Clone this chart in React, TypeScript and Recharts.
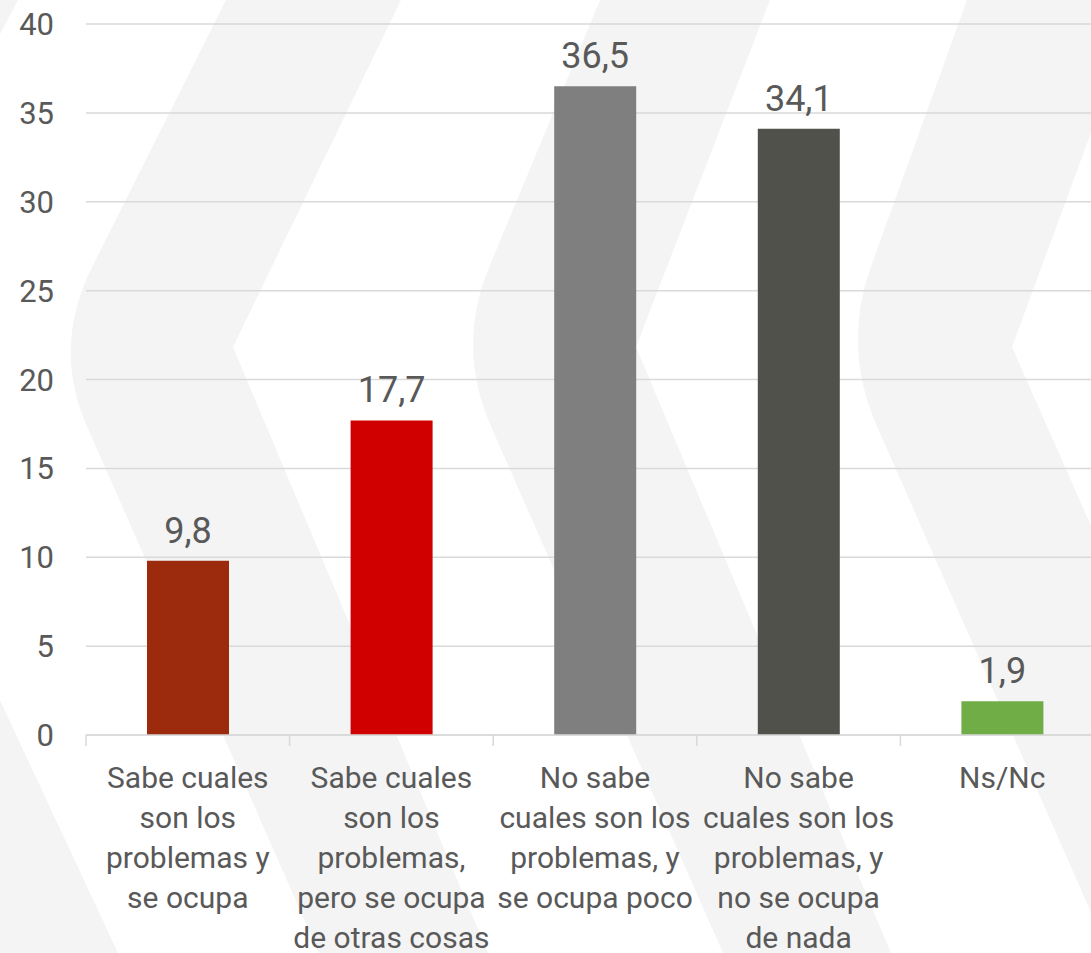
import { Bar, BarChart, CartesianGrid, Cell, LabelList, XAxis, YAxis } from "recharts";

const categories = [
  "Sabe cuales\nson los\nproblemas y\nse ocupa",
  "Sabe cuales\nson los\nproblemas,\npero se ocupa\nde otras cosas",
  "No sabe\ncuales son los\nproblemas, y\nse ocupa poco",
  "No sabe\ncuales son los\nproblemas, y\nno se ocupa\nde nada",
  "Ns/Nc",
];
const values = [9.8, 17.7, 36.5, 34.1, 1.9];
const barColors = ["#9c2a0d", "#d10000", "#7f7f7f", "#51514c", "#70ad47"];
const yTicks = [0, 5, 10, 15, 20, 25, 30, 35, 40];

const data = categories.map((name, i) => ({ name, value: values[i] }));

const W = 1104;
const H = 953;
const AXIS_W = 86;
const BAND = (W - AXIS_W) / categories.length;
const TEXT = "#595959";
const FONT = "Roboto, 'Noto Sans', sans-serif";

// background chevrons: [top x, apex x, bottom x] for left and right edges
const chevrons = [
  { l: [-160, -345, -60], r: [18, -165, 118] },
  { l: [226, 52, 319], r: [401, 233, 488] },
  { l: [600, 456, 723], r: [770, 636, 891] },
  { l: [967, 842, 1109], r: [1140, 1012, 1280] },
];

function chevronPath(c: { l: number[]; r: number[] }) {
  const ay = 347;
  const d = 80;
  const up = c.l[1] + ((c.l[0] - c.l[1]) * d) / ay;
  const lo = c.l[1] + ((c.l[2] - c.l[1]) * d) / (H - ay);
  return `M${c.l[0]},0 L${c.r[0]},0 L${c.r[1]},${ay} L${c.r[2]},${H} L${c.l[2]},${H} L${lo},${ay + d} Q${c.l[1]},${ay} ${up},${ay - d} Z`;
}

function CategoryTick(props: any) {
  const { x, y, payload } = props;
  const lines = String(payload.value).split("\n");
  const left = x - BAND / 2;
  return (
    <g>
      <line x1={left} y1={y - 8} x2={left} y2={y + 3} stroke="#d9d9d9" strokeWidth={1.5} />
      <text x={x} y={y} textAnchor="middle" fill={TEXT} fontSize={30} fontFamily={FONT}>
        {lines.map((ln, i) => (
          <tspan key={i} x={x} dy={i === 0 ? 45 : 40}>
            {ln}
          </tspan>
        ))}
      </text>
    </g>
  );
}

export default function App() {
  return (
    <div
      style={{
        position: "absolute",
        left: 0,
        top: 0,
        width: 1091,
        height: H,
        overflow: "hidden",
        background: "#ffffff",
      }}
    >
      <svg width={1091} height={H} style={{ position: "absolute", left: 0, top: 0 }}>
        {chevrons.map((c, i) => (
          <path key={i} d={chevronPath(c)} fill="#f4f4f4" />
        ))}
      </svg>
      <div style={{ position: "absolute", left: 0, top: 0 }}>
        <BarChart
          width={W}
          height={H}
          data={data}
          margin={{ top: 24, right: 0, bottom: 0, left: 0 }}
          barCategoryGap="30%"
        >
          <CartesianGrid vertical={false} stroke="#d9d9d9" strokeWidth={1.5} />
          <XAxis
            dataKey="name"
            height={H - 24 - 711}
            interval={0}
            tick={<CategoryTick />}
            tickLine={false}
            axisLine={{ stroke: "#d9d9d9", strokeWidth: 1.5 }}
          />
          <YAxis
            width={AXIS_W}
            domain={[0, 40]}
            ticks={yTicks}
            interval={0}
            tickSize={0}
            tickMargin={32}
            axisLine={false}
            tickLine={false}
            tick={{ fill: TEXT, fontSize: 31, fontFamily: FONT }}
          />
          <Bar dataKey="value" barSize={82} isAnimationActive={false}>
            {data.map((d, i) => (
              <Cell key={d.name} fill={barColors[i]} />
            ))}
            <LabelList
              dataKey="value"
              position="top"
              offset={18}
              formatter={(v: any) => Number(v).toFixed(1).replace(".", ",")}
              style={{ fill: TEXT, fontSize: 36, fontFamily: FONT }}
            />
          </Bar>
        </BarChart>
      </div>
    </div>
  );
}
